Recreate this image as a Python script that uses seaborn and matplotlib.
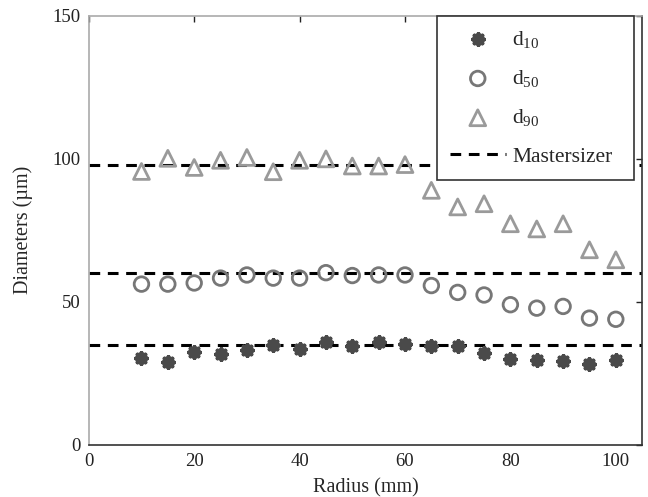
import matplotlib
matplotlib.use("Agg")
import matplotlib.pyplot as plt
import seaborn as sns
import pandas as pd

radius = [10, 15, 20, 25, 30, 35, 40, 45, 50, 55, 60, 65, 70, 75, 80, 85, 90, 95, 100]
d10 = [30.5, 28.8, 32.3, 31.8, 33.0, 35.0, 33.5, 36.1, 34.6, 35.8, 35.3, 34.6, 34.4, 32.0, 30.0, 29.7, 29.4, 28.2, 29.7]
d50 = [56.2, 56.2, 56.6, 58.3, 59.4, 58.3, 58.3, 60.2, 59.2, 59.4, 59.4, 55.7, 53.3, 52.4, 49.0, 47.8, 48.4, 44.3, 43.9]
d90 = [95.6, 100.2, 97.0, 99.5, 100.5, 95.5, 99.5, 100.0, 97.5, 97.5, 98.0, 89.0, 83.2, 84.3, 77.3, 75.5, 77.3, 68.2, 64.7]
mastersizer = [98, 60, 35]

df = pd.DataFrame({'radius': radius, 'd10': d10, 'd50': d50, 'd90': d90})

sns.set_theme(style="white")
plt.rcParams['font.family'] = ['Liberation Serif', 'DejaVu Serif']
plt.rcParams['mathtext.fontset'] = 'custom'
plt.rcParams['mathtext.rm'] = 'Liberation Serif'
plt.rcParams['mathtext.it'] = 'Liberation Serif'

fig = plt.figure(figsize=(6.48, 4.97), dpi=100)
ax = fig.add_axes([0.137, 0.105, 0.854, 0.863])

sns.scatterplot(data=df, x='radius', y='d10', ax=ax, marker=(8, 2, 0), s=60,
                linewidth=3, color='#4a4a4a', edgecolor='#4a4a4a', label='d$_{10}$', zorder=3)
sns.scatterplot(data=df, x='radius', y='d50', ax=ax, marker='o', s=110,
                facecolor='none', edgecolor='#777777', linewidth=2, label='d$_{50}$', zorder=3)
sns.scatterplot(data=df, x='radius', y='d90', ax=ax, marker='^', s=130,
                facecolor='none', edgecolor='#9a9a9a', linewidth=2, label='d$_{90}$', zorder=3)
for i, m in enumerate(mastersizer):
    ax.axhline(m, color='black', linestyle=(0, (3.5, 2.5)), linewidth=2.2,
               label='Mastersizer' if i == 0 else None, zorder=2)

ax.set_xlim(0, 105)
ax.set_ylim(0, 150)
ax.set_xticks([0, 20, 40, 60, 80, 100])
ax.set_yticks([0, 50, 100, 150])
ax.tick_params(direction='in', length=4, labelsize=13.5, colors='#222222', width=1,
               top=True, right=True, pad=6)
ax.set_xlabel('Radius (mm)', fontsize=14.5, labelpad=6)
ax.set_ylabel('Diameters (\u00b5m)', fontsize=14.5, labelpad=14)
for side in ['left', 'top']:
    ax.spines[side].set_color('#aaaaaa')
for side in ['right', 'bottom']:
    ax.spines[side].set_color('#333333')
for sp in ax.spines.values():
    sp.set_linewidth(1.2)

leg = ax.legend(loc='upper left', bbox_to_anchor=(0.629, 1.0, 0.356, 0.0), mode='expand',
                borderaxespad=0, fontsize=15.5, frameon=True, fancybox=False,
                edgecolor='#333333', framealpha=1, labelspacing=0.85,
                handlelength=2.6, handletextpad=0.3, borderpad=0.6)
leg.get_frame().set_linewidth(1.2)
leg.set_zorder(5)

fig.savefig('out.png', dpi=100)
